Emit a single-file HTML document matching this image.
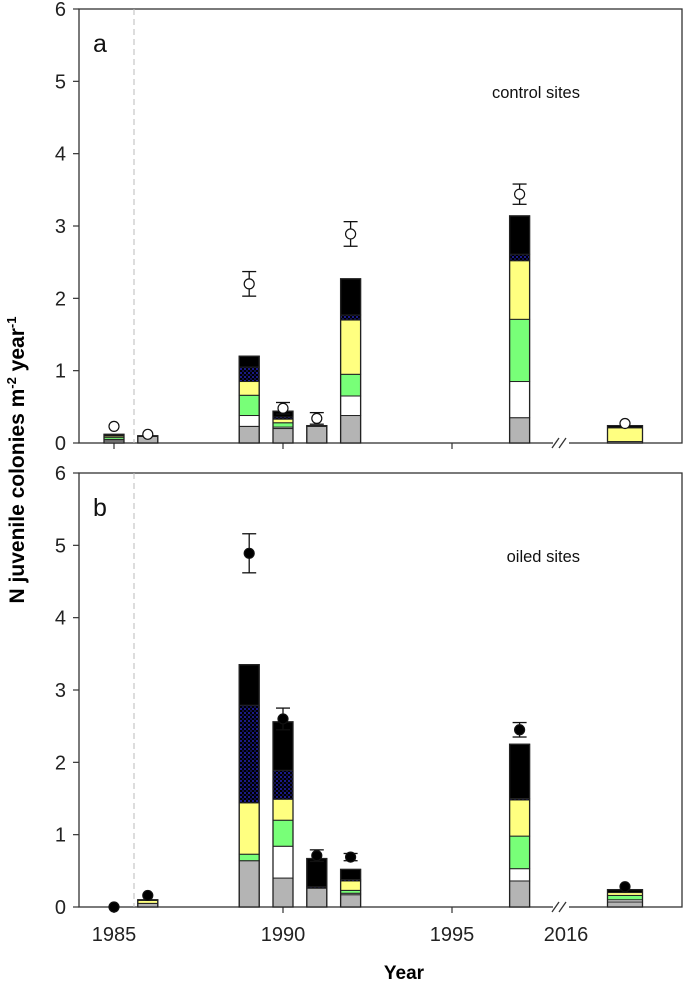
<!DOCTYPE html>
<html><head><meta charset="utf-8"><style>
html,body{margin:0;padding:0;background:#fff;}
svg{display:block;font-family:"Liberation Sans",Arial,sans-serif;}
</style></head><body>
<svg id="chart" width="685" height="983" viewBox="0 0 685 983">
<defs>
<pattern id="navy" width="4" height="4" patternUnits="userSpaceOnUse">
<rect width="4" height="4" fill="#000"/><rect x="0" y="0" width="2" height="2" fill="#1a1a8a"/><rect x="2" y="2" width="2" height="2" fill="#101050"/>
</pattern>
</defs>
<text transform="translate(24,460) rotate(-90)" text-anchor="middle" font-size="21" font-weight="bold">N juvenile colonies m<tspan dy="-8" font-size="13">-2</tspan><tspan dy="8"> year</tspan><tspan dy="-8" font-size="13">-1</tspan></text>
<text x="404" y="979" text-anchor="middle" font-size="19" font-weight="bold">Year</text>
<g id="plots"></g>
</svg>
<script>
const years = [1985, 1986, 1989, 1990, 1991, 1992, 1997, 2017];
const layerNames = ['gray','white','green','yellow','navy','black'];
const layerFill = ['#b4b4b4','#ffffff','#78ff78','#ffff80','url(#navy)','#000000'];
// control sites (panel a) layer values per year: gray, white, green, yellow, navy, black
const ctrlGray   = [0.03, 0.09, 0.23, 0.20, 0.23, 0.38, 0.35, 0.02];
const ctrlWhite  = [0.02, 0.00, 0.15, 0.02, 0.00, 0.27, 0.50, 0.00];
const ctrlGreen  = [0.03, 0.00, 0.28, 0.06, 0.00, 0.30, 0.86, 0.00];
const ctrlYellow = [0.02, 0.00, 0.19, 0.05, 0.00, 0.75, 0.81, 0.19];
const ctrlNavy   = [0.00, 0.00, 0.20, 0.03, 0.00, 0.07, 0.09, 0.00];
const ctrlBlack  = [0.02, 0.01, 0.15, 0.08, 0.01, 0.50, 0.53, 0.03];
const ctrlMean   = [0.23, 0.12, 2.20, 0.48, 0.34, 2.89, 3.44, 0.27];
const ctrlErr    = [0.00, 0.00, 0.17, 0.08, 0.08, 0.17, 0.14, 0.00];
// oiled sites (panel b)
const oilGray   = [0.00, 0.05, 0.64, 0.40, 0.26, 0.17, 0.36, 0.07];
const oilWhite  = [0.00, 0.00, 0.00, 0.44, 0.00, 0.02, 0.17, 0.03];
const oilGreen  = [0.00, 0.00, 0.09, 0.36, 0.00, 0.04, 0.45, 0.06];
const oilYellow = [0.00, 0.04, 0.71, 0.29, 0.00, 0.13, 0.50, 0.04];
const oilNavy   = [0.00, 0.00, 1.35, 0.40, 0.02, 0.02, 0.02, 0.00];
const oilBlack  = [0.00, 0.01, 0.56, 0.67, 0.39, 0.14, 0.75, 0.04];
const oilMean   = [0.00, 0.16, 4.89, 2.60, 0.71, 0.69, 2.45, 0.28];
const oilErr    = [0.00, 0.00, 0.27, 0.15, 0.08, 0.05, 0.10, 0.00];
const yTicks = [0,1,2,3,4,5,6];
const xTickYears = [1985, 1990, 1995];
const xTickLabels = ['1985','1990','1995'];

const NS='http://www.w3.org/2000/svg';
const root=document.getElementById('plots');
const X0=79, X1=682;
function xScale(y){ return y>=2016 ? 566+(y-2016)*59 : 114+(y-1985)*33.8; }
function mk(tag,attrs,parent){const e=document.createElementNS(NS,tag);for(const k in attrs)e.setAttribute(k,attrs[k]);parent.appendChild(e);return e;}

function panel(top,bottom,layers,means,errs,label,title,filled,key){
  const yScale=v=>bottom-(bottom-top)*v/6;
  const g=mk('g',{},root);
  
  
  const fr=mk('rect',{x:X0,y:top,width:X1-X0,height:bottom-top,fill:'none',stroke:'#333','stroke-width':1.3},g);
  
  
  const dl=mk('line',{x1:134,x2:134,y1:top,y2:bottom,stroke:'#bbb','stroke-dasharray':'6,4'},g);
  
  
  yTicks.forEach(t=>{
    const y=yScale(t);
    mk('line',{x1:X0-6,x2:X0,y1:y,y2:y,stroke:'#333','stroke-width':1.2},g);
    const tx=mk('text',{x:X0-13,y:y+7,'text-anchor':'end','font-size':20,fill:'#222'},g);
    tx.textContent=t;
    
    
  });
  xTickYears.forEach(yv=>{const x=xScale(yv);mk('line',{x1:x,x2:x,y1:bottom,y2:bottom+6,stroke:'#333','stroke-width':1.2},g);});
  const bx=560;
  mk('rect',{x:bx-7,y:bottom-3,width:16,height:6,fill:'#fff'},g);
  mk('line',{x1:bx-8,y1:bottom+5,x2:bx-1,y2:bottom-5,stroke:'#333','stroke-width':1.3},g);
  mk('line',{x1:bx-1,y1:bottom+5,x2:bx+6,y2:bottom-5,stroke:'#333','stroke-width':1.3},g);
  years.forEach((yr,i)=>{
    const w = yr>=2016?35:20;
    const cx=xScale(yr);
    let acc=0;
    const total=layers.reduce((s,L)=>s+L[i],0);
    if(total<=0) return;
    layers.forEach((L,j)=>{
      const v=L[i]; if(v<=0) return;
      const y1=yScale(acc+v), y2=yScale(acc);
      const r=mk('rect',{x:cx-w/2,y:y1,width:w,height:y2-y1,fill:layerFill[j],stroke:'#222','stroke-width':1},g);
      
      
      acc+=v;
    });
    mk('rect',{x:cx-w/2,y:yScale(total),width:w,height:yScale(0)-yScale(total),fill:'none',stroke:'#222','stroke-width':1.3},g);
  });
  years.forEach((yr,i)=>{
    const cx=xScale(yr), m=means[i], e=errs[i];
    if(e>0){
      mk('line',{x1:cx,x2:cx,y1:yScale(m+e),y2:yScale(m-e),stroke:'#111','stroke-width':1.3},g);
      mk('line',{x1:cx-7,x2:cx+7,y1:yScale(m+e),y2:yScale(m+e),stroke:'#111','stroke-width':1.3},g);
      mk('line',{x1:cx-7,x2:cx+7,y1:yScale(m-e),y2:yScale(m-e),stroke:'#111','stroke-width':1.3},g);
    }
    const c=mk('circle',{cx:cx,cy:yScale(m),r:5,fill:filled?'#000':'#fff',stroke:'#111','stroke-width':1.2},g);
    
    
  });
  const lt=mk('text',{x:93,y:top+43,'font-size':25,fill:'#111'},g);
  lt.textContent=label;
  
  
  const tt=mk('text',{x:580,y:top+89,'text-anchor':'end','font-size':16.5,fill:'#111'},g);
  tt.textContent=title;
  
  
}
panel(9,443,[ctrlGray,ctrlWhite,ctrlGreen,ctrlYellow,ctrlNavy,ctrlBlack],ctrlMean,ctrlErr,'a','control sites',false,'a');
panel(473,907,[oilGray,oilWhite,oilGreen,oilYellow,oilNavy,oilBlack],oilMean,oilErr,'b','oiled sites',true,'b');
const lbls=xTickYears.map((y,i)=>[xScale(y),xTickLabels[i]]).concat([[566,'2016']]);
lbls.forEach(([x,t])=>{
  const tx=mk('text',{x:x,y:941,'text-anchor':'middle','font-size':20,fill:'#222'},root);
  tx.textContent=t;
  
  
});
</script>
</body></html>
